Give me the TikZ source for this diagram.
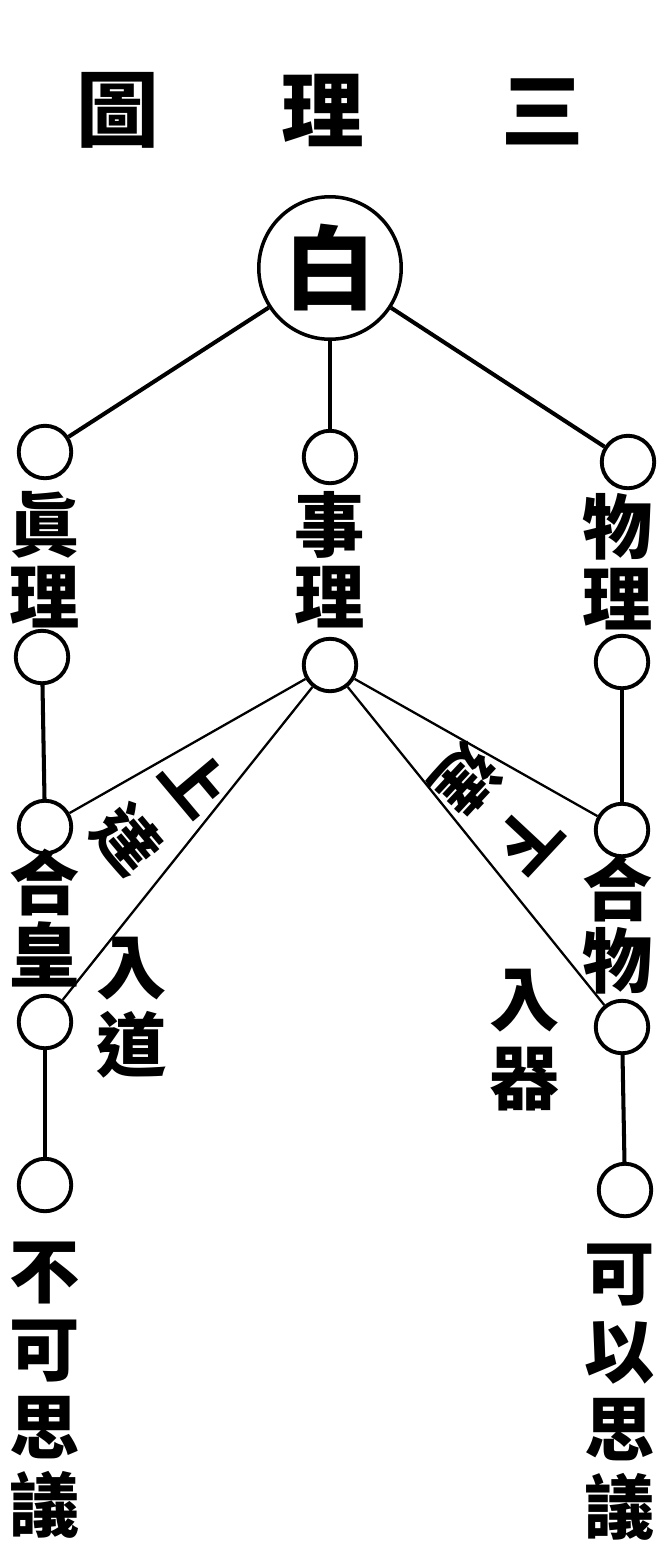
\documentclass[tikz,border=0pt]{standalone}
\usepackage{fontspec}
\newfontfamily\cjk{Noto Sans CJK TC}
\usepackage{tikz}
\tikzstyle{knot}=[circle, draw=black, line width=2.2pt, minimum size=1.05cm, inner sep=0pt]
\tikzstyle{hub}=[circle, draw=black, line width=2pt, minimum size=2.85cm, inner sep=0pt, font=\cjk\bfseries\fontsize{52}{52}\selectfont]
\tikzstyle{zi}=[inner sep=0pt, align=center, font=\cjk\bfseries\fontsize{40}{41}\selectfont]
\tikzstyle{zilong}=[inner sep=0pt, align=center, font=\cjk\bfseries\fontsize{40}{44.5}\selectfont]
\tikzstyle{tizi}=[inner sep=0pt, font=\cjk\bfseries\fontsize{47}{47}\selectfont]
\tikzstyle{xie}=[inner sep=0pt, align=center, font=\cjk\bfseries\fontsize{36}{50}\selectfont]

\begin{document}
\begin{tikzpicture}[x=0.02cm, y=-0.02cm]
    \useasboundingbox (0,0) rectangle (658,1566);
    % title, read from right to left
    \node[tizi] (t1) at (543,112) {三};
    \node[tizi] (t2) at (323,110) {理};
    \node[tizi] (t3) at (118,110) {圖};
    \node[hub] (W) at (330,268) {白};
    % first row
    \node[knot] (a1) at (45,452) {};
    \node[knot] (b1) at (330,457) {};
    \node[knot] (c1) at (628,462) {};
    \node[zi] (la1) at (45,560) {眞\\理};
    \node[zi] (lb1) at (330,560) {事\\理};
    \node[zi] (lc1) at (618,562) {物\\理};
    \node[knot] (a2) at (42,657) {};
    \node[knot] (b2) at (330,665) {};
    \node[knot] (c2) at (622,662) {};
    % second row
    \node[knot] (a3) at (45,827) {};
    \node[knot] (c3) at (622,830) {};
    \node[zi] (la3) at (45,918) {合\\皇};
    \node[zi] (lc3) at (618,925) {合\\物};
    \node[knot] (a4) at (45,1022) {};
    \node[knot] (c4) at (622,1027) {};
    % fan out of the middle column
    \node[xie, rotate=-50] (up) at (161,811) {上\\達};
    \node[xie, rotate=-133] (down) at (496,808) {下\\達};
    \node[zilong] (ru) at (132,1008) {入\\道};
    \node[zilong] (rq) at (525,1040) {入\\器};
    % last row
    \node[knot] (a5) at (45,1185) {};
    \node[knot] (c5) at (625,1190) {};
    \node[zilong] (la5) at (45,1390) {不\\可\\思\\議};
    \node[zilong] (lc5) at (620,1392) {可\\以\\思\\議};
    \foreach \to/\from in
      {W/a1, W/b1, W/c1, a2/a3, a4/a5, c2/c3, c4/c5}
    \draw[line width=2.3pt] (\to) -- (\from);
    \foreach \to/\from in
      {b2/a3, b2/a4, b2/c3, b2/c4}
    \draw[line width=1.3pt] (\to) -- (\from);
\end{tikzpicture}
\end{document}
